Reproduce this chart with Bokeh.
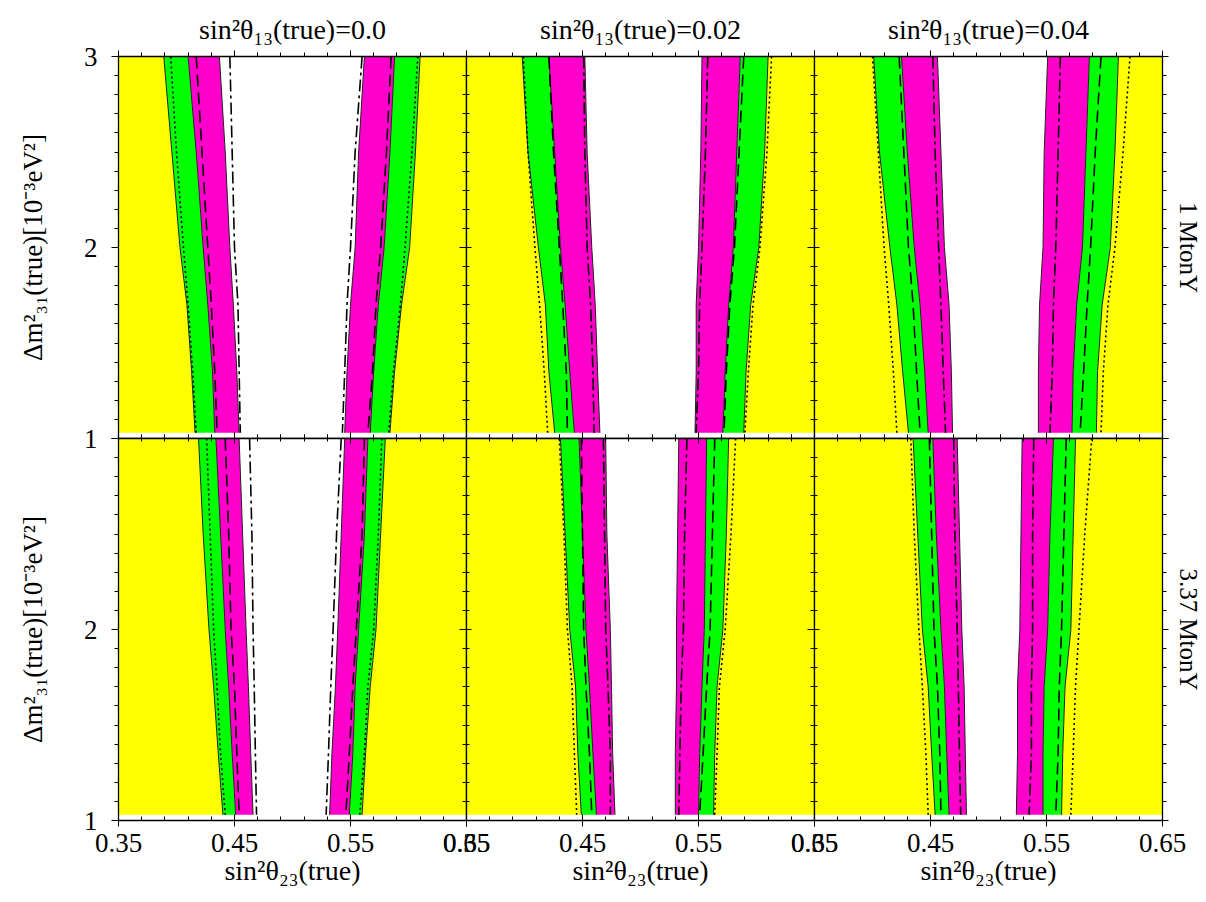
from bokeh.plotting import figure
from bokeh.layouts import row, column
from bokeh.models import FixedTicker, LinearAxis, Range1d, CustomJSTickFormatter
from bokeh.embed import file_html
from bokeh.resources import INLINE

# ---------------- data ----------------
Y = [3.0, 2.5, 2.0, 1.7, 1.35, 1.03]          # Δm²31(true) sample points [1e-3 eV²]
THETA13 = ["0.0", "0.02", "0.04"]
EXPOSURE = ["1 MtonY", "3.37 MtonY"]
X_TICKS = [0.35, 0.45, 0.55, 0.65]
X_MINOR = [0.35, 0.37, 0.39, 0.41, 0.43, 0.45, 0.47, 0.49, 0.51, 0.53, 0.55, 0.57, 0.59, 0.61, 0.63, 0.65]
Y_TICKS = [1, 2, 3]
Y_MINOR = [1.0, 1.1, 1.2, 1.3, 1.4, 1.5, 1.6, 1.7, 1.8, 1.9, 2.0, 2.1, 2.2, 2.3, 2.4, 2.5, 2.6, 2.7, 2.8, 2.9, 3.0]
X_LO, X_HI = 0.35, 0.65

# panel 1: 1 MtonY, sin^2θ13 = 0.0
P1_L_OUT = [0.389, 0.396, 0.403, 0.409, 0.413, 0.416]
P1_L_DOT = [0.395, 0.400, 0.406, 0.410, 0.414, 0.417]
P1_L_MID = [0.410, 0.417, 0.423, 0.427, 0.431, 0.433]
P1_L_DASH = [0.417, 0.422, 0.427, 0.430, 0.433, 0.435]
P1_L_IN = [0.437, 0.442, 0.446, 0.449, 0.452, 0.454]
P1_L_DD = [0.446, 0.448, 0.450, 0.453, 0.454, 0.455]
P1_R_DD = [0.560, 0.554, 0.550, 0.547, 0.545, 0.543]
P1_R_IN = [0.562, 0.557, 0.554, 0.550, 0.547, 0.545]
P1_R_DASH = [0.585, 0.581, 0.576, 0.572, 0.569, 0.565]
P1_R_MID = [0.588, 0.584, 0.579, 0.574, 0.570, 0.567]
P1_R_DOT = [0.608, 0.603, 0.597, 0.593, 0.587, 0.583]
P1_R_OUT = [0.610, 0.606, 0.601, 0.594, 0.588, 0.584]

# panel 2: 1 MtonY, sin^2θ13 = 0.02
P2_L_OUT = [0.398, 0.403, 0.412, 0.418, 0.421, 0.426]
P2_L_DOT = [0.399, 0.403, 0.409, 0.413, 0.417, 0.420]
P2_L_MID = [0.421, 0.426, 0.431, 0.435, 0.439, 0.443]
P2_L_DASH = [0.421, 0.425, 0.430, 0.433, 0.436, 0.437]
P2_L_IN = [0.452, 0.454, 0.458, 0.461, 0.463, 0.465]
P2_L_DD = [0.451, 0.452, 0.454, 0.457, 0.459, 0.460]
P2_R_DD = [0.558, 0.556, 0.553, 0.551, 0.550, 0.548]
P2_R_IN = [0.553, 0.552, 0.550, 0.548, 0.548, 0.547]
P2_R_DASH = [0.589, 0.585, 0.581, 0.577, 0.574, 0.572]
P2_R_MID = [0.586, 0.583, 0.580, 0.576, 0.573, 0.571]
P2_R_DOT = [0.613, 0.609, 0.603, 0.597, 0.593, 0.590]
P2_R_OUT = [0.610, 0.607, 0.602, 0.595, 0.591, 0.589]

# panel 3: 1 MtonY, sin^2θ13 = 0.04
P3_L_OUT = [0.401, 0.406, 0.415, 0.421, 0.426, 0.431]
P3_L_DOT = [0.400, 0.405, 0.410, 0.414, 0.418, 0.421]
P3_L_MID = [0.425, 0.430, 0.436, 0.441, 0.445, 0.448]
P3_L_DASH = [0.423, 0.427, 0.431, 0.435, 0.438, 0.441]
P3_L_IN = [0.456, 0.459, 0.462, 0.466, 0.468, 0.469]
P3_L_DD = [0.452, 0.454, 0.457, 0.459, 0.461, 0.463]
P3_R_DD = [0.562, 0.560, 0.558, 0.556, 0.555, 0.553]
P3_R_IN = [0.551, 0.548, 0.547, 0.544, 0.543, 0.543]
P3_R_DASH = [0.597, 0.592, 0.588, 0.585, 0.582, 0.579]
P3_R_MID = [0.587, 0.584, 0.581, 0.576, 0.573, 0.572]
P3_R_DOT = [0.622, 0.616, 0.609, 0.603, 0.599, 0.597]
P3_R_OUT = [0.612, 0.609, 0.605, 0.598, 0.594, 0.593]

# panel 4: 3.37 MtonY, sin^2θ13 = 0.0
P4_L_OUT = [0.419, 0.423, 0.428, 0.432, 0.436, 0.440]
P4_L_DOT = [0.426, 0.429, 0.432, 0.435, 0.438, 0.442]
P4_L_MID = [0.434, 0.438, 0.442, 0.445, 0.448, 0.451]
P4_L_DASH = [0.442, 0.445, 0.447, 0.450, 0.452, 0.454]
P4_L_IN = [0.454, 0.457, 0.460, 0.462, 0.464, 0.466]
P4_L_DD = [0.463, 0.465, 0.466, 0.467, 0.468, 0.469]
P4_R_DD = [0.542, 0.538, 0.535, 0.533, 0.531, 0.529]
P4_R_IN = [0.545, 0.542, 0.539, 0.537, 0.534, 0.532]
P4_R_DASH = [0.562, 0.560, 0.555, 0.552, 0.549, 0.546]
P4_R_MID = [0.565, 0.562, 0.557, 0.554, 0.552, 0.549]
P4_R_DOT = [0.577, 0.574, 0.570, 0.565, 0.562, 0.558]
P4_R_OUT = [0.580, 0.576, 0.572, 0.567, 0.563, 0.560]

# panel 5: 3.37 MtonY, sin^2θ13 = 0.02
P5_L_OUT = [0.431, 0.435, 0.439, 0.444, 0.446, 0.449]
P5_L_DOT = [0.430, 0.434, 0.437, 0.441, 0.443, 0.445]
P5_L_MID = [0.447, 0.450, 0.453, 0.456, 0.459, 0.462]
P5_L_DASH = [0.449, 0.450, 0.451, 0.453, 0.456, 0.458]
P5_L_IN = [0.470, 0.471, 0.474, 0.475, 0.476, 0.478]
P5_L_DD = [0.468, 0.469, 0.470, 0.472, 0.474, 0.474]
P5_R_DD = [0.540, 0.538, 0.537, 0.535, 0.534, 0.533]
P5_R_IN = [0.533, 0.532, 0.531, 0.531, 0.530, 0.530]
P5_R_DASH = [0.564, 0.562, 0.560, 0.557, 0.554, 0.551]
P5_R_MID = [0.557, 0.556, 0.555, 0.553, 0.551, 0.550]
P5_R_DOT = [0.582, 0.578, 0.573, 0.568, 0.566, 0.564]
P5_R_OUT = [0.576, 0.574, 0.571, 0.566, 0.564, 0.563]

# panel 6: 3.37 MtonY, sin^2θ13 = 0.04
P6_L_OUT = [0.435, 0.439, 0.443, 0.448, 0.451, 0.454]
P6_L_DOT = [0.433, 0.436, 0.440, 0.443, 0.446, 0.448]
P6_L_MID = [0.452, 0.455, 0.459, 0.462, 0.464, 0.466]
P6_L_DASH = [0.449, 0.451, 0.453, 0.456, 0.458, 0.459]
P6_L_IN = [0.473, 0.475, 0.477, 0.479, 0.480, 0.481]
P6_L_DD = [0.470, 0.471, 0.473, 0.474, 0.475, 0.476]
P6_R_DD = [0.539, 0.538, 0.538, 0.537, 0.537, 0.535]
P6_R_IN = [0.529, 0.528, 0.527, 0.525, 0.525, 0.524]
P6_R_DASH = [0.567, 0.565, 0.563, 0.561, 0.560, 0.558]
P6_R_MID = [0.556, 0.553, 0.551, 0.548, 0.547, 0.547]
P6_R_DOT = [0.589, 0.583, 0.578, 0.575, 0.573, 0.571]
P6_R_OUT = [0.575, 0.573, 0.571, 0.566, 0.564, 0.563]


def pack(lo, ld, lm, lda, li, ldd, rdd, ri, rda, rm, rd, ro):
    return dict(l_out=lo, l_dot=ld, l_mid=lm, l_dash=lda, l_in=li, l_dd=ldd,
                r_dd=rdd, r_in=ri, r_dash=rda, r_mid=rm, r_dot=rd, r_out=ro)


PANELS = [
    [pack(P1_L_OUT, P1_L_DOT, P1_L_MID, P1_L_DASH, P1_L_IN, P1_L_DD, P1_R_DD, P1_R_IN, P1_R_DASH, P1_R_MID, P1_R_DOT, P1_R_OUT),
     pack(P2_L_OUT, P2_L_DOT, P2_L_MID, P2_L_DASH, P2_L_IN, P2_L_DD, P2_R_DD, P2_R_IN, P2_R_DASH, P2_R_MID, P2_R_DOT, P2_R_OUT),
     pack(P3_L_OUT, P3_L_DOT, P3_L_MID, P3_L_DASH, P3_L_IN, P3_L_DD, P3_R_DD, P3_R_IN, P3_R_DASH, P3_R_MID, P3_R_DOT, P3_R_OUT)],
    [pack(P4_L_OUT, P4_L_DOT, P4_L_MID, P4_L_DASH, P4_L_IN, P4_L_DD, P4_R_DD, P4_R_IN, P4_R_DASH, P4_R_MID, P4_R_DOT, P4_R_OUT),
     pack(P5_L_OUT, P5_L_DOT, P5_L_MID, P5_L_DASH, P5_L_IN, P5_L_DD, P5_R_DD, P5_R_IN, P5_R_DASH, P5_R_MID, P5_R_DOT, P5_R_OUT),
     pack(P6_L_OUT, P6_L_DOT, P6_L_MID, P6_L_DASH, P6_L_IN, P6_L_DD, P6_R_DD, P6_R_IN, P6_R_DASH, P6_R_MID, P6_R_DOT, P6_R_OUT)],
]

# ---------------- style ----------------
FONT = "Liberation Serif"
YELLOW = "#ffff00"
GREEN = "#00ff00"
MAGENTA = "#ff00cc"
FRAME_W, FRAME_H = 348, 382
OVER = 30  # border overlap between neighbouring panels


def style_axis(ax, ticks, minor, labels, tin, tout, mtin, mtout, standoff=8):
    ax.ticker = FixedTicker(ticks=ticks, minor_ticks=minor)
    ax.axis_line_color = "black"
    ax.axis_line_width = 1.3
    ax.major_tick_line_color = "black"
    ax.minor_tick_line_color = "black"
    ax.major_tick_line_width = 1
    ax.minor_tick_line_width = 1
    ax.major_tick_in, ax.major_tick_out = tin, tout
    ax.minor_tick_in, ax.minor_tick_out = mtin, mtout
    ax.major_label_text_font = FONT
    ax.major_label_text_color = "black"
    if labels:
        ax.major_label_text_font_size = "27px"
        ax.major_label_standoff = standoff
    else:
        ax.formatter = CustomJSTickFormatter(code="return ''")
        ax.major_label_text_font_size = "1px"
        ax.major_label_standoff = 0
    ax.axis_label_text_font = FONT
    ax.axis_label_text_font_style = "normal"
    ax.axis_label_text_color = "black"


def make_panel(r, c):
    d = PANELS[r][c]
    p = figure(frame_width=FRAME_W, frame_height=FRAME_H,
               x_range=Range1d(X_LO, X_HI), y_range=Range1d(Y_TICKS[0], Y_TICKS[-1]),
               output_backend="svg", toolbar_location=None, tools="",
               x_axis_location=None, y_axis_location=None,
               min_border_left=118 if c == 0 else OVER,
               min_border_right=40 if c == 2 else OVER,
               min_border_top=56 if r == 0 else OVER,
               min_border_bottom=76 if r == 1 else OVER)
    p.border_fill_alpha = 0
    p.background_fill_color = "white"
    p.outline_line_color = None
    p.grid.visible = False

    n = len(Y)
    lo = [X_LO] * n
    hi = [X_HI] * n
    p.harea(x1=lo, x2=d["l_out"], y=Y, fill_color=YELLOW)
    p.harea(x1=d["l_out"], x2=d["l_mid"], y=Y, fill_color=GREEN)
    p.harea(x1=d["l_mid"], x2=d["l_in"], y=Y, fill_color=MAGENTA)
    p.harea(x1=d["r_in"], x2=d["r_mid"], y=Y, fill_color=MAGENTA)
    p.harea(x1=d["r_mid"], x2=d["r_out"], y=Y, fill_color=GREEN)
    p.harea(x1=d["r_out"], x2=hi, y=Y, fill_color=YELLOW)
    for k in ("l_out", "l_mid", "l_in", "r_in", "r_mid", "r_out"):
        p.line(d[k], Y, line_color="#222222", line_width=1)
    for k in ("l_dot", "r_dot"):
        p.line(d[k], Y, line_color="black", line_width=1.6, line_dash="2 3")
    for k in ("l_dash", "r_dash"):
        p.line(d[k], Y, line_color="black", line_width=1.6, line_dash="12 6")
    for k in ("l_dd", "r_dd"):
        p.line(d[k], Y, line_color="black", line_width=1.6, line_dash="12 4 3 4")

    # axes
    below = LinearAxis()
    style_axis(below, X_TICKS, X_MINOR, r == 1, 6, 6 if r == 1 else 5, 4, 0 if r == 1 else 3, standoff=7)
    if r == 1:
        below.axis_label = "sin²θ₂₃(true)"
        below.axis_label_text_font_size = "28px"
        below.axis_label_standoff = 0
    p.add_layout(below, "below")

    above = LinearAxis()
    style_axis(above, X_TICKS, X_MINOR, False, 0 if r == 0 else 5, 6, 0 if r == 0 else 3, 4)
    p.add_layout(above, "above")

    left = LinearAxis()
    style_axis(left, Y_TICKS, Y_MINOR, c == 0, 0 if c == 0 else 5, 7, 0 if c == 0 else 3, 4, standoff=14)
    if c == 0:
        left.axis_label = "Δm²₃₁(true)[10⁻³eV²]"
        left.axis_label_text_font_size = "27px"
        left.axis_label_standoff = 33
        if r == 1:
            left.major_label_overrides = {3: ""}
    p.add_layout(left, "left")

    right = LinearAxis()
    style_axis(right, Y_TICKS, Y_MINOR, False, 0 if c == 2 else 5, 6, 0 if c == 2 else 3, 4)
    if c == 2:
        right.axis_label = EXPOSURE[r]
        right.axis_label_text_font_size = "25px"
        right.axis_label_standoff = 6
    p.add_layout(right, "right")

    if r == 0:
        p.title.text = "sin²θ₁₃(true)=" + THETA13[c]
        p.title.align = "center"
        p.title.text_font = FONT
        p.title.text_font_size = "28px"
        p.title.text_font_style = "normal"
        p.title.text_color = "black"
        p.title.standoff = 12
    if c > 0:
        p.margin = (0, 0, 0, -2 * OVER)
    return p


top = row(*[make_panel(0, c) for c in range(3)])
bottom = row(*[make_panel(1, c) for c in range(3)])
bottom.margin = (-2 * OVER, 0, 0, 0)
layout = column(top, bottom)

open("out.html", "w").write(file_html(layout, INLINE))
